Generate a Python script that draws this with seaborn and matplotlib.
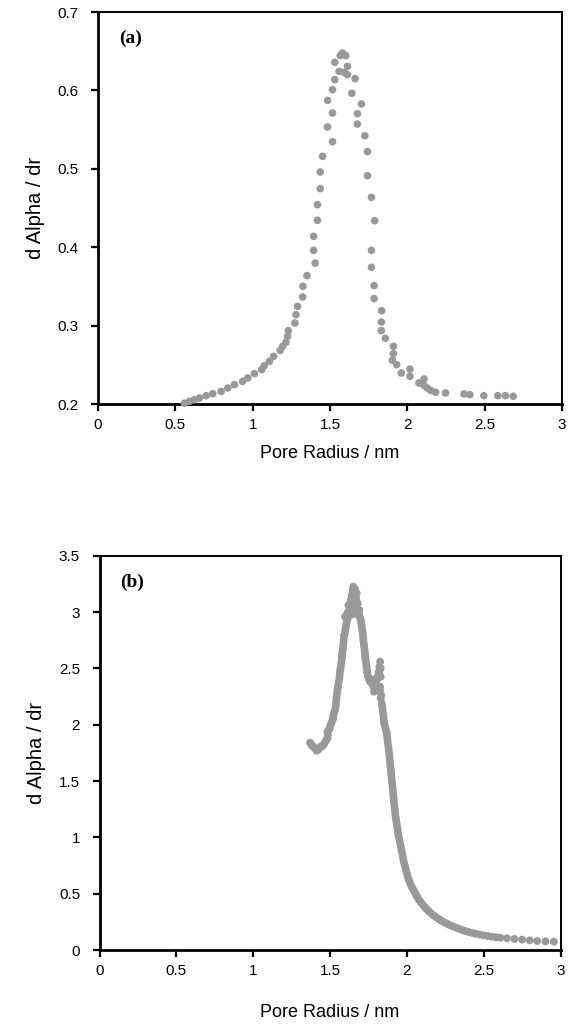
import numpy as np
import pandas as pd
import matplotlib
matplotlib.use("Agg")
import matplotlib.pyplot as plt
import seaborn as sns

# ---------------- data ----------------
x_ticks = [0, 0.5, 1, 1.5, 2, 2.5, 3]
x_ticklabels = ["0", "0.5", "1", "1.5", "2", "2.5", "3"]
a_yticks = [0.2, 0.3, 0.4, 0.5, 0.6, 0.7]
a_yticklabels = ["0.2", "0.3", "0.4", "0.5", "0.6", "0.7"]
b_yticks = [0, 0.5, 1, 1.5, 2, 2.5, 3, 3.5]
b_yticklabels = ["0", "0.5", "1", "1.5", "2", "2.5", "3", "3.5"]

a_x = [0.559, 0.591, 0.624, 0.656, 0.699, 0.742, 0.796, 0.839, 0.882, 0.935,
       0.968, 1.011, 1.058, 1.075, 1.108, 1.135, 1.178, 1.194, 1.215, 1.226,
       1.230, 1.273, 1.280, 1.290, 1.323, 1.325, 1.351, 1.404, 1.394, 1.394,
       1.419, 1.419, 1.437, 1.437, 1.452, 1.516, 1.484, 1.516, 1.484, 1.516,
       1.531, 1.559, 1.531, 1.566, 1.581, 1.602, 1.613, 1.591, 1.613, 1.662,
       1.641, 1.703, 1.677, 1.677, 1.725, 1.742, 1.742, 1.768, 1.789, 1.768,
       1.768, 1.785, 1.785, 1.834, 1.832, 1.832, 1.858, 1.910, 1.910, 1.903,
       1.931, 1.961, 2.017, 2.017, 2.108, 2.075, 2.108, 2.129, 2.151, 2.183,
       2.247, 2.366, 2.404, 2.495, 2.585, 2.634, 2.684]
a_y = [0.201, 0.2034, 0.2055, 0.2076, 0.2106, 0.2132, 0.2161, 0.2204, 0.2247, 0.2289,
       0.2332, 0.2387, 0.2438, 0.2489, 0.2544, 0.2608, 0.2684, 0.2736, 0.2787, 0.2863,
       0.2935, 0.3033, 0.3139, 0.3245, 0.3365, 0.3501, 0.3637, 0.3798, 0.3960, 0.4139,
       0.4343, 0.4543, 0.4747, 0.4959, 0.5159, 0.5346, 0.5533, 0.5712, 0.5873, 0.6009,
       0.6137, 0.6243, 0.6358, 0.6443, 0.6477, 0.6443, 0.6307, 0.6230, 0.6201, 0.6150,
       0.5963, 0.5827, 0.5703, 0.5571, 0.5423, 0.5219, 0.4912, 0.4636, 0.4338, 0.3960,
       0.3743, 0.3509, 0.3344, 0.3190, 0.3046, 0.2935, 0.2838, 0.2736, 0.2642, 0.2557,
       0.2502, 0.2395, 0.2446, 0.2353, 0.2319, 0.2268, 0.2238, 0.2204, 0.2174, 0.2149,
       0.2140, 0.2128, 0.2119, 0.2106, 0.2106, 0.2106, 0.2098]

b_x = [1.370, 1.380, 1.391, 1.402, 1.413, 1.426, 1.439, 1.452, 1.463, 1.474,
       1.483, 1.486, 1.483, 1.496, 1.500, 1.504, 1.510, 1.517, 1.520, 1.522,
       1.527, 1.533, 1.536, 1.539, 1.541, 1.543, 1.546, 1.548, 1.551, 1.554,
       1.557, 1.561, 1.563, 1.565, 1.568, 1.570, 1.573, 1.576, 1.577, 1.578,
       1.580, 1.583, 1.585, 1.587, 1.589, 1.591, 1.594, 1.598, 1.601, 1.604,
       1.606, 1.609, 1.598, 1.613, 1.615, 1.620, 1.620, 1.626, 1.630, 1.635,
       1.637, 1.641, 1.645, 1.648, 1.652, 1.656, 1.660, 1.663, 1.667, 1.674,
       1.670, 1.680, 1.670, 1.680, 1.691, 1.690, 1.685, 1.696, 1.700, 1.703,
       1.707, 1.710, 1.713, 1.715, 1.717, 1.720, 1.722, 1.725, 1.728, 1.729,
       1.730, 1.732, 1.735, 1.737, 1.739, 1.741, 1.743, 1.747, 1.752, 1.756,
       1.761, 1.772, 1.775, 1.783, 1.787, 1.790, 1.793, 1.800, 1.800, 1.805,
       1.809, 1.815, 1.817, 1.820, 1.822, 1.826, 1.830, 1.830, 1.826, 1.826,
       1.830, 1.833, 1.837, 1.840, 1.843, 1.845, 1.848, 1.850, 1.852, 1.857,
       1.861, 1.866, 1.870, 1.872, 1.874, 1.876, 1.880, 1.882, 1.885, 1.887,
       1.889, 1.891, 1.893, 1.896, 1.898, 1.900, 1.902, 1.905, 1.907, 1.909,
       1.911, 1.913, 1.915, 1.917, 1.920, 1.922, 1.924, 1.927, 1.930, 1.933,
       1.937, 1.940, 1.943, 1.947, 1.952, 1.956, 1.961, 1.965, 1.970, 1.974,
       1.978, 1.983, 1.989, 1.994, 2.000, 2.006, 2.013, 2.019, 2.026, 2.034,
       2.043, 2.052, 2.061, 2.070, 2.080, 2.091, 2.102, 2.114, 2.126, 2.139,
       2.152, 2.166, 2.180, 2.195, 2.211, 2.227, 2.243, 2.260, 2.278, 2.296,
       2.315, 2.337, 2.359, 2.380, 2.402, 2.424, 2.446, 2.473, 2.500, 2.527,
       2.554, 2.580, 2.609, 2.652, 2.700, 2.750, 2.800, 2.848, 2.902, 2.957]
b_y = [1.840, 1.819, 1.805, 1.790, 1.769, 1.781, 1.805, 1.811, 1.834, 1.858,
       1.879, 1.910, 1.938, 1.959, 1.978, 1.997, 2.020, 2.041, 2.060, 2.086,
       2.108, 2.130, 2.160, 2.189, 2.220, 2.249, 2.280, 2.308, 2.330, 2.352,
       2.380, 2.411, 2.440, 2.470, 2.490, 2.515, 2.545, 2.574, 2.600, 2.618,
       2.640, 2.663, 2.690, 2.722, 2.750, 2.781, 2.800, 2.825, 2.850, 2.870,
       2.890, 2.914, 2.959, 2.988, 2.940, 3.000, 3.060, 3.018, 3.062, 3.107,
       3.020, 3.151, 2.980, 3.195, 3.225, 3.120, 3.050, 3.201, 2.990, 3.166,
       3.121, 3.077, 3.033, 3.000, 3.018, 2.980, 2.973, 2.950, 2.929, 2.900,
       2.870, 2.840, 2.811, 2.780, 2.751, 2.720, 2.692, 2.660, 2.633, 2.610,
       2.589, 2.570, 2.544, 2.520, 2.500, 2.480, 2.456, 2.430, 2.411, 2.400,
       2.382, 2.367, 2.400, 2.337, 2.293, 2.380, 2.337, 2.382, 2.330, 2.400,
       2.426, 2.420, 2.470, 2.470, 2.515, 2.559, 2.500, 2.426, 2.337, 2.300,
       2.234, 2.260, 2.189, 2.160, 2.130, 2.100, 2.071, 2.040, 2.012, 1.990,
       1.967, 1.945, 1.923, 1.890, 1.864, 1.835, 1.805, 1.775, 1.746, 1.716,
       1.686, 1.657, 1.627, 1.598, 1.568, 1.539, 1.509, 1.480, 1.450, 1.420,
       1.391, 1.361, 1.331, 1.302, 1.272, 1.243, 1.213, 1.184, 1.154, 1.125,
       1.095, 1.066, 1.036, 1.006, 0.976, 0.947, 0.917, 0.888, 0.858, 0.829,
       0.799, 0.770, 0.740, 0.710, 0.680, 0.651, 0.621, 0.599, 0.577, 0.555,
       0.533, 0.510, 0.488, 0.466, 0.444, 0.424, 0.405, 0.386, 0.367, 0.349,
       0.331, 0.316, 0.302, 0.287, 0.272, 0.259, 0.246, 0.234, 0.222, 0.211,
       0.201, 0.189, 0.178, 0.169, 0.160, 0.152, 0.145, 0.137, 0.130, 0.124,
       0.118, 0.113, 0.109, 0.104, 0.098, 0.092, 0.086, 0.080, 0.077, 0.074]

x_label = "Pore Radius / nm"
y_label = "d Alpha / dr"
panel_labels = ["(a)", "(b)"]

# ---------------- style ----------------
sns.set_theme(style="white")
plt.rcParams["font.family"] = ["Liberation Sans", "DejaVu Sans"]

W, H = 578, 1031
fig = plt.figure(figsize=(W / 100, H / 100), dpi=100)
fig.patch.set_facecolor("white")

ax_a = fig.add_axes([98 / W, 1 - 404 / H, 464 / W, 392 / H])
ax_b = fig.add_axes([99.5 / W, 1 - 950 / H, 461 / W, 394.3 / H])

dot_color = "#999999"
df_a = pd.DataFrame({"x": a_x, "y": a_y})
df_b = pd.DataFrame({"x": b_x, "y": b_y})
sns.scatterplot(data=df_a, x="x", y="y", ax=ax_a, color=dot_color, s=30,
                linewidth=0, edgecolor="none", clip_on=False, zorder=3)
sns.scatterplot(data=df_b, x="x", y="y", ax=ax_b, color=dot_color, s=32,
                linewidth=0, edgecolor="none", clip_on=False, zorder=3)

for ax, yt, ytl, ylim, lab in [(ax_a, a_yticks, a_yticklabels, (0.2, 0.7), panel_labels[0]),
                               (ax_b, b_yticks, b_yticklabels, (0, 3.5), panel_labels[1])]:
    ax.set_facecolor("white")
    ax.set_xlim(0, 3)
    ax.set_ylim(*ylim)
    ax.set_xticks(x_ticks)
    ax.set_xticklabels(x_ticklabels)
    ax.set_yticks(yt)
    ax.set_yticklabels(ytl)
    ax.tick_params(axis="both", which="major", direction="out", length=5,
                   width=1.6, color="black", labelsize=11, labelcolor="black",
                   bottom=True, left=True, top=False, right=False)
    ax.tick_params(axis="x", pad=5)
    ax.tick_params(axis="y", pad=9)
    for side in ["left", "bottom"]:
        ax.spines[side].set_linewidth(2.0)
        ax.spines[side].set_color("black")
    for side in ["top", "right"]:
        ax.spines[side].set_linewidth(1.4)
        ax.spines[side].set_color("black")
    ax.grid(False)
    ax.set_xlabel(x_label, fontsize=13, color="black")
    ax.set_ylabel(y_label, fontsize=14.5, color="black")
    ax.text(0.045, 0.955, lab, transform=ax.transAxes, ha="left", va="top",
            fontsize=14, fontweight="bold", family=["Liberation Serif", "DejaVu Serif"],
            color="black")

ax_a.xaxis.set_label_coords(0.5, -0.105)
ax_b.xaxis.set_label_coords(0.5, -0.137)
ax_a.yaxis.set_label_coords(-0.115, 0.5)
ax_b.yaxis.set_label_coords(-0.115, 0.5)

fig.savefig("out.png", dpi=100, facecolor="white")
